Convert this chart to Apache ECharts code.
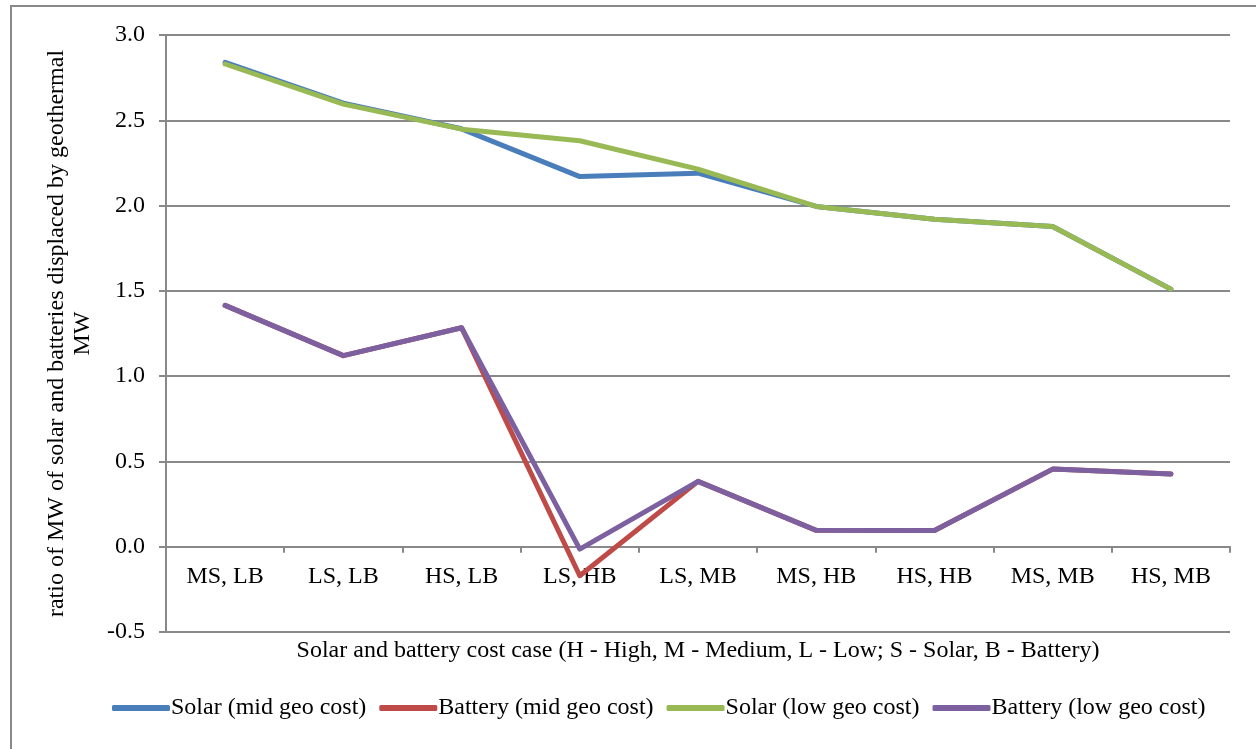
<!DOCTYPE html>
<html>
<head>
<meta charset="utf-8">
<script src="https://cdn.jsdelivr.net/npm/echarts@6/dist/echarts.min.js"></script>
<style>
  html, body { margin: 0; padding: 0; background: #fff; }
  #chart { width: 1256px; height: 749px; }
</style>
</head>
<body>
<div id="chart"></div>
<script>
// Cost cases along the x axis
const categories = ['MS, LB', 'LS, LB', 'HS, LB', 'LS, HB', 'LS, MB', 'MS, HB', 'HS, HB', 'MS, MB', 'HS, MB'];

// Ratio of MW displaced by geothermal MW
const solarMidGeo   = [2.84, 2.60, 2.45, 2.17, 2.19, 1.995, 1.92, 1.877, 1.51];
const batteryMidGeo = [1.415, 1.12, 1.284, -0.17, 0.383, 0.096, 0.095, 0.455, 0.426];
const solarLowGeo   = [2.83, 2.595, 2.448, 2.38, 2.214, 1.995, 1.92, 1.877, 1.51];
const batteryLowGeo = [1.415, 1.12, 1.284, -0.014, 0.383, 0.096, 0.095, 0.455, 0.426];

const seriesNames = ['Solar (mid geo cost)', 'Battery (mid geo cost)', 'Solar (low geo cost)', 'Battery (low geo cost)'];
const seriesColors = ['#4A7EBB', '#BE4B48', '#98B954', '#7D60A0'];
const seriesData = [solarMidGeo, batteryMidGeo, solarLowGeo, batteryLowGeo];

const xAxisTitle = 'Solar and battery cost case (H - High, M - Medium, L - Low; S - Solar, B - Battery)';
const yAxisTitle = 'ratio of MW of solar and batteries displaced by geothermal\nMW';

const FONT = '"Liberation Serif", "Times New Roman", serif';
const GRID_GRAY = '#898989';

const chart = echarts.init(document.getElementById('chart'), null, { renderer: 'canvas' });

chart.setOption({
  backgroundColor: '#ffffff',
  animation: false,
  textStyle: { fontFamily: FONT, color: '#000' },
  graphic: [
    {
      // outer chart frame
      type: 'rect',
      shape: { x: 11, y: 6, width: 1300, height: 800 },
      style: { fill: 'none', stroke: GRID_GRAY, lineWidth: 2 },
      silent: true,
      z: -10
    },
    {
      type: 'text',
      x: 698,
      y: 651,
      style: {
        text: xAxisTitle,
        font: '24px ' + FONT,
        fill: '#000',
        align: 'center',
        verticalAlign: 'middle'
      },
      silent: true
    }
  ],
  grid: {
    left: 166, right: 26, top: 35, bottom: 117,
    containLabel: false,
    outerBoundsMode: 'none'
  },
  legend: {
    data: seriesNames,
    left: 107,
    top: 691,
    itemWidth: 58,
    itemHeight: 6,
    itemGap: 13,
    icon: 'roundRect',
    textStyle: { fontFamily: FONT, fontSize: 24, color: '#000', padding: [0, 0, 0, -4] }
  },
  xAxis: {
    type: 'category',
    data: categories,
    boundaryGap: true,
    axisLine: { onZero: true, lineStyle: { color: GRID_GRAY, width: 2 } },
    axisTick: { show: true, length: 6, lineStyle: { color: GRID_GRAY, width: 2 } },
    // labels sit just under the zero line rather than at the plot's bottom edge
    axisLabel: { fontFamily: FONT, fontSize: 24, color: '#000', margin: -67 }
  },
  yAxis: {
    type: 'value',
    min: -0.5,
    max: 3.0,
    interval: 0.5,
    axisLine: { show: true, lineStyle: { color: GRID_GRAY, width: 2 } },
    axisTick: { show: true, length: 7, lineStyle: { color: GRID_GRAY, width: 2 } },
    splitLine: { show: true, lineStyle: { color: GRID_GRAY, width: 2 } },
    axisLabel: {
      fontFamily: FONT, fontSize: 24, color: '#000', margin: 21,
      formatter: v => v.toFixed(1)
    },
    name: yAxisTitle,
    nameLocation: 'middle',
    nameRotate: 90,
    nameGap: 60,
    nameTextStyle: { fontFamily: FONT, fontSize: 24, color: '#000', lineHeight: 26 }
  },
  series: seriesData.map((d, i) => ({
    name: seriesNames[i],
    type: 'line',
    data: d,
    showSymbol: false,
    symbol: 'none',
    color: seriesColors[i],
    lineStyle: { color: seriesColors[i], width: 5, cap: 'round', join: 'round' },
    z: 2 + i
  }))
});
</script>
</body>
</html>
